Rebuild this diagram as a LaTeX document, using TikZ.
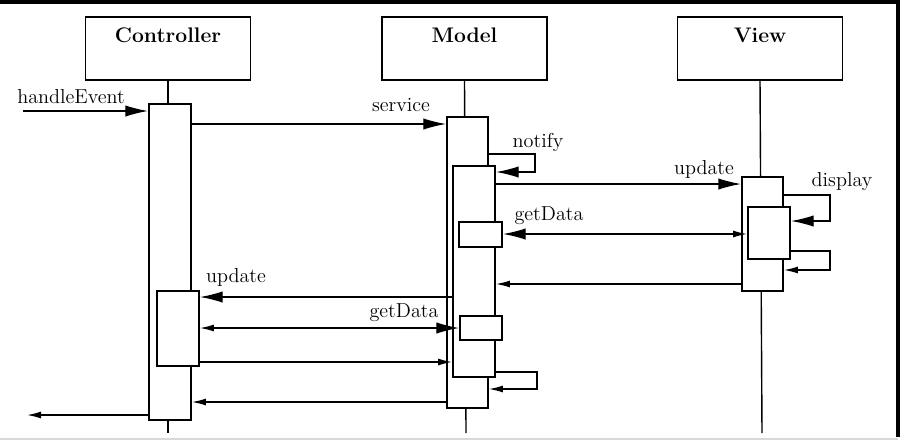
\documentclass[tikz,border=0pt]{standalone}
\usepackage{tikz}
\usetikzlibrary{arrows.meta}

\tikzset{
  objbox/.style={draw, line width=1.1pt, minimum width=3.3cm, minimum height=1.26cm, inner sep=0pt},
  actbox/.style={draw, fill=white, line width=1pt, inner sep=0pt},
  objtitle/.style={font=\fontsize{12}{14}\selectfont\bfseries},
  msglabel/.style={font=\fontsize{11.5}{13}\selectfont, inner sep=0pt},
  bigtip/.style={arrows={-Latex[length=13pt,width=6.5pt]}},
  smalltip/.style={arrows={-Latex[length=8pt,width=4pt]}},
}

\begin{document}
\begin{tikzpicture}[x=0.02cm, y=-0.02cm, line width=0.8pt]
  \useasboundingbox (0,0) rectangle (905,441);
  % Frame of the screenshot
  \draw[line width=2pt] (0,2) -- (898,2) -- (898,437);
  \draw[gray!30] (0,439) -- (898,439);

  % Objects
  \node[objbox] (ctrl) at (168,48.5) {};
  \node[objbox] (model) at (464.5,48.5) {};
  \node[objbox] (view) at (760,48.5) {};
  \node[objtitle] (ctrlT) at (168,35) {Controller};
  \node[objtitle] (modelT) at (464.5,35) {Model};
  \node[objtitle] (viewT) at (760,35) {View};

  % Lifelines
  \coordinate (ctrlEnd) at (168,433);
  \coordinate (modelEnd) at (466,433);
  \coordinate (viewEnd) at (762,433);
  \draw (ctrl.south) -- (ctrlEnd);
  \draw (model.south) -- (modelEnd);
  \draw (view.south) -- (viewEnd);

  % Activations
  \node[actbox, minimum width=0.84cm, minimum height=6.32cm] (cA) at (170,262) {};
  \node[actbox, minimum width=0.84cm, minimum height=1.5cm] (cB) at (178,328.5) {};
  \node[actbox, minimum width=0.82cm, minimum height=5.82cm] (mA) at (467.5,262.5) {};
  \node[actbox, minimum width=0.84cm, minimum height=4.22cm] (mB) at (474,271.5) {};
  \node[actbox, minimum width=0.86cm, minimum height=0.5cm] (mC) at (480.5,234.5) {};
  \node[actbox, minimum width=0.84cm, minimum height=0.48cm] (mD) at (481,328) {};
  \node[actbox, minimum width=0.82cm, minimum height=2.28cm] (vA) at (762.5,234) {};
  \node[actbox, minimum width=0.84cm, minimum height=1.04cm] (vB) at (769,233) {};

  % Messages
  \coordinate (inStart) at (23,111);
  \coordinate (outEnd) at (27,415);
  \draw[bigtip] (inStart) -- (cA.west |- 0,111)
    node[msglabel] at (71,97) {handleEvent};
  \draw[bigtip] (cA.east |- 0,124) -- (mA.west |- 0,124)
    node[msglabel] at (401,105) {service};
  \draw[bigtip] (mA.east |- 0,154) -- (535,154) -- (535,172) -- (mB.east |- 0,172)
    node[msglabel] at (538,142) {notify};
  \draw[bigtip] (mB.east |- 0,184) -- (vA.west |- 0,184)
    node[msglabel] at (704,169) {update};
  \draw[bigtip] (vA.east |- 0,195) -- (830,195) -- (830,221) -- (vB.east |- 0,221)
    node[msglabel] at (842,182) {display};
  \draw[arrows={Latex[length=13pt,width=6.5pt]-Latex[length=8pt,width=4pt]}]
    (mC.east |- 0,234) -- (vB.west |- 0,234)
    node[msglabel] at (549,216) {getData};
  \draw[smalltip] (vB.east |- 0,251) -- (830,251) -- (830,270) -- (vA.east |- 0,270);
  \draw[smalltip] (vA.west |- 0,284) -- (mB.east |- 0,284);
  \draw[bigtip] (mB.west |- 0,297) -- (cB.east |- 0,297)
    node[msglabel] at (236,277) {update};
  \draw[arrows={Latex[length=8pt,width=4pt]-Latex[length=13pt,width=6.5pt]}]
    (cB.east |- 0,328) -- (mD.west |- 0,328)
    node[msglabel] at (404,313) {getData};
  \draw[smalltip] (cB.east |- 0,362) -- (mB.west |- 0,362);
  \draw[smalltip] (mB.east |- 0,372) -- (537,372) -- (537,389) -- (mA.east |- 0,389);
  \draw[smalltip] (mA.west |- 0,402) -- (cA.east |- 0,402);
  \draw[smalltip] (cA.west |- 0,415) -- (outEnd);

\end{tikzpicture}
\end{document}
